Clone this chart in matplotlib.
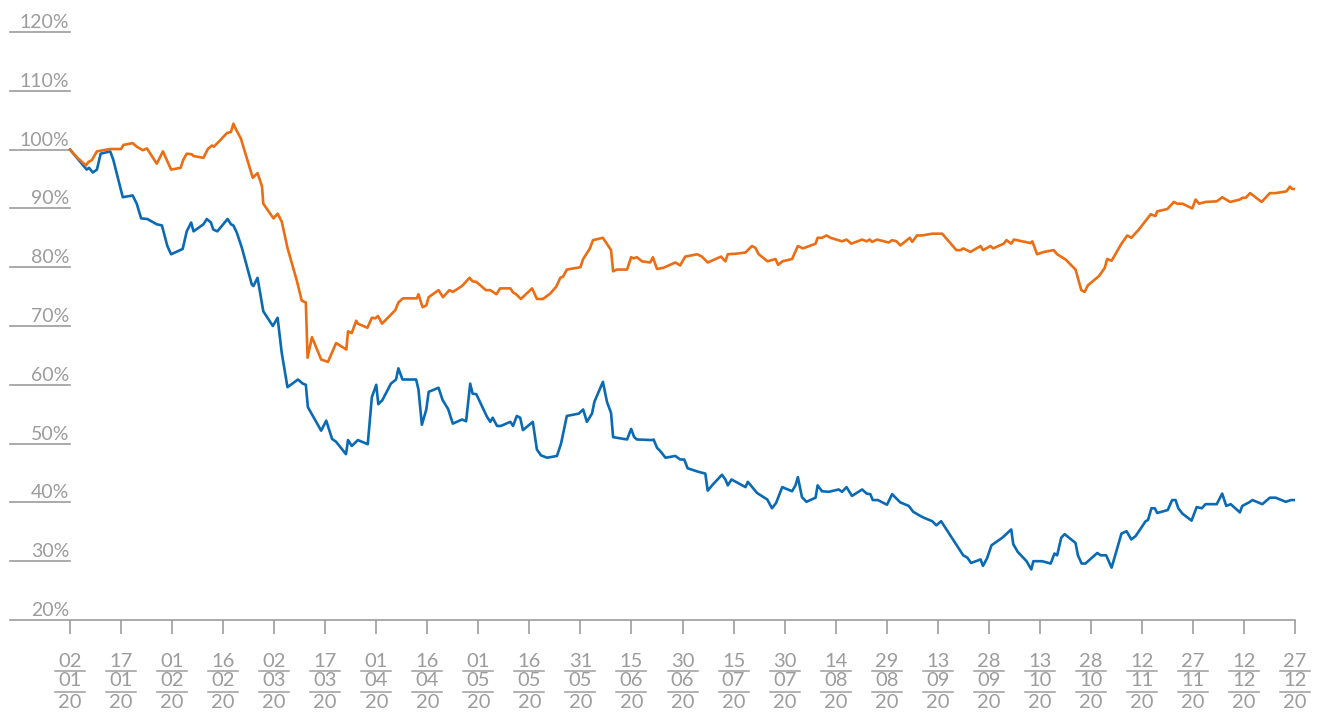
import matplotlib
matplotlib.use('Agg')
import matplotlib.pyplot as plt
import pandas as pd

# days since 02/01/2020 and index level (%)
orange_days = [0, 2.0, 4.7, 5.4, 6.4, 7.9, 11.8, 15.0, 15.7, 18.4, 19.6, 21.4, 22.6, 25.5, 27.3, 29.7,
               32.5, 33.3, 34.3, 35.8, 36.3, 39.2, 40.5, 41.7, 42.3, 46.1, 47.3, 48.0, 48.8, 50.2, 53.7,
               55.1, 56.4, 56.8, 59.8, 61.0, 62.2, 63.9, 66.7, 68.1, 69.3, 69.8, 71.1, 73.8, 75.8, 78.2,
               81.2, 81.7, 82.8, 84.1, 84.6, 87.4, 88.7, 89.7, 90.5, 91.7, 95.6, 96.5, 97.8, 101.9, 102.4,
               103.6, 104.7, 105.4, 108.3, 109.6, 111.5, 112.5, 115.2, 117.4, 118.3, 119.4, 122.2, 123.5,
               125.3, 126.4, 129.4, 130.2, 131.1, 132.5, 135.8, 137.2, 139.0, 141.1, 142.9, 144.1, 144.9,
               146.0, 150.0, 150.8, 152.7, 153.7, 156.6, 159.0, 159.6, 160.7, 163.7, 164.9, 165.6, 166.6,
               168.1, 170.5, 171.3, 172.5, 174.4, 177.9, 179.3, 180.8, 184.3, 185.7, 187.4, 191.3, 192.6,
               193.3, 195.8, 198.5, 200.4, 201.4, 202.4, 205.0, 207.3, 208.1, 209.4, 212.2, 213.9, 215.4,
               219.1, 219.7, 221.0, 222.3, 223.5, 226.9, 228.2, 229.6, 232.8, 234.1, 235.0, 235.7, 237.2,
               240.6, 241.6, 242.9, 244.0, 246.8, 247.5, 248.9, 250.4, 253.4, 256.3, 260.5, 261.7, 262.5,
               264.6, 267.6, 268.3, 270.5, 271.3, 274.4, 275.2, 276.6, 277.4, 282.3, 282.8, 284.2, 286.2,
               289.1, 290.1, 292.6, 295.5, 297.2, 298.2, 299.1, 302.4, 304.1, 304.8, 306.1, 309.0, 310.7,
               311.9, 314.1, 317.6, 319.0, 319.5, 322.5, 324.4, 325.4, 326.9, 329.8, 330.8, 331.8, 333.7,
               337.0, 338.6, 340.9, 343.8, 344.5, 345.5, 346.8, 350.2, 352.6, 354.3, 357.5, 358.5, 359.2, 360]
orange_vals = [100, 98.7, 97.3, 97.9, 98.2, 99.7, 100.1, 100.1, 100.8, 101.1, 100.5, 99.9, 100.2, 97.6, 99.7,
               96.6, 96.9, 98.3, 99.3, 99.2, 98.9, 98.6, 100.1, 100.7, 100.5, 102.8, 103.0, 104.4, 103.4,
               101.9, 95.2, 96.0, 93.8, 90.8, 88.3, 89.1, 87.8, 83.3, 77.6, 74.3, 74.0, 64.6, 68.1, 64.3,
               63.9, 67.1, 66.0, 69.1, 68.8, 70.9, 70.4, 69.7, 71.4, 71.3, 71.7, 70.4, 72.7, 74.0, 74.7,
               74.7, 75.4, 73.2, 73.5, 74.9, 76.1, 74.9, 76.1, 75.8, 76.8, 78.2, 77.6, 77.5, 76.1, 76.1,
               75.4, 76.4, 76.4, 75.7, 75.4, 74.6, 76.4, 74.6, 74.6, 75.5, 76.7, 78.2, 78.4, 79.6, 80.0,
               81.4, 83.1, 84.6, 85.0, 82.9, 79.3, 79.6, 79.6, 81.7, 81.5, 81.7, 81.0, 80.8, 81.7, 79.7,
               79.9, 80.8, 80.3, 81.8, 82.2, 81.8, 80.8, 81.8, 81.0, 82.2, 82.3, 82.5, 83.6, 83.3, 82.2,
               81.0, 81.4, 80.4, 81.0, 81.4, 83.6, 83.2, 84.0, 85.0, 85.0, 85.4, 85.0, 84.4, 84.7, 84.0,
               84.7, 84.4, 84.7, 84.3, 84.7, 84.2, 84.6, 84.4, 83.7, 85.0, 84.3, 85.4, 85.4, 85.7, 85.7,
               82.9, 82.9, 83.2, 82.6, 83.6, 82.9, 83.6, 83.2, 84.0, 84.6, 84.0, 84.7, 84.1, 84.4, 82.2,
               82.6, 82.9, 82.2, 81.3, 79.6, 76.1, 75.8, 76.9, 78.5, 79.9, 81.4, 81.1, 84.0, 85.4, 85.0,
               86.4, 89.0, 88.7, 89.5, 89.9, 91.1, 90.8, 90.8, 90.0, 91.5, 90.8, 91.1, 91.2, 91.9, 91.1,
               91.5, 91.8, 91.8, 92.6, 91.1, 92.6, 92.6, 92.9, 93.7, 93.3, 93.3]

blue_days = [0, 2.9, 4.9, 5.6, 6.7, 7.9, 9.0, 11.8, 12.7, 15.5, 18.4, 19.6, 20.9, 22.7, 25.5, 27.0, 28.6,
             29.7, 33.1, 34.3, 35.6, 36.3, 39.2, 40.2, 41.4, 42.1, 43.3, 46.3, 47.3, 48.0, 49.0, 50.5, 53.4,
             53.9, 55.1, 56.8, 59.6, 61.0, 62.2, 63.9, 67.0, 68.4, 69.3, 69.9, 73.8, 75.3, 77.0, 78.2, 81.1,
             81.7, 82.8, 84.6, 87.5, 88.7, 90.0, 90.6, 91.8, 94.3, 95.8, 96.5, 97.7, 101.7, 102.4, 103.4,
             104.7, 105.4, 108.3, 109.5, 111.1, 112.5, 115.2, 116.4, 117.6, 118.3, 119.4, 122.5, 123.5,
             124.2, 125.5, 126.6, 129.4, 130.2, 131.3, 132.3, 133.1, 136.0, 137.2, 138.4, 140.2, 143.1,
             144.3, 146.0, 149.5, 150.8, 151.9, 153.4, 154.1, 156.6, 157.8, 159.0, 159.6, 163.7, 164.9,
             165.8, 166.6, 171.0, 171.5, 172.5, 173.5, 175.0, 177.9, 179.3, 180.5, 181.5, 184.7, 186.7,
             187.4, 189.0, 191.6, 192.6, 193.3, 194.4, 198.5, 199.2, 201.9, 204.9, 206.3, 207.5, 209.3,
             212.2, 213.2, 213.9, 215.1, 216.4, 219.1, 219.7, 221.0, 223.0, 225.9, 226.9, 228.2, 229.8,
             232.8, 234.1, 235.2, 235.9, 237.4, 240.1, 241.6, 244.0, 246.5, 247.8, 249.9, 250.9, 253.4,
             254.6, 256.0, 262.5, 263.7, 264.8, 267.6, 268.3, 269.5, 270.8, 274.0, 276.6, 277.2, 278.5,
             281.1, 282.5, 283.1, 285.7, 288.2, 289.3, 290.1, 291.3, 292.3, 295.5, 296.2, 297.3, 298.4,
             301.9, 302.9, 304.5, 306.1, 309.0, 310.5, 311.9, 313.2, 316.1, 316.8, 317.8, 318.8, 319.5,
             322.6, 323.9, 324.9, 325.7, 326.9, 329.6, 331.1, 332.6, 333.7, 337.0, 338.6, 339.8, 341.1,
             343.8, 344.5, 346.5, 347.5, 350.4, 352.6, 354.3, 357.3, 358.8, 360]
blue_vals = [100, 98.0, 96.6, 96.9, 96.1, 96.6, 99.3, 99.7, 98.3, 91.9, 92.2, 90.8, 88.3, 88.2, 87.3, 87.1,
             83.6, 82.2, 83.1, 86.1, 87.6, 86.1, 87.3, 88.2, 87.6, 86.4, 86.1, 88.2, 87.3, 87.1, 85.9, 83.3,
             77.1, 76.8, 78.2, 72.5, 70.0, 71.4, 65.5, 59.6, 60.9, 60.2, 60.0, 56.2, 52.2, 53.9, 50.8, 50.3,
             48.2, 50.6, 49.6, 50.6, 49.9, 57.9, 60.0, 56.7, 57.4, 60.2, 60.9, 62.8, 60.9, 60.9, 59.2, 53.2,
             55.8, 58.8, 59.5, 57.4, 55.9, 53.4, 54.1, 53.8, 60.2, 58.5, 58.4, 54.6, 53.7, 54.4, 53.0, 53.0,
             53.7, 53.0, 54.7, 54.4, 52.3, 53.7, 49.0, 48.0, 47.6, 47.9, 50.0, 54.7, 55.1, 55.8, 53.7, 55.1,
             57.1, 60.5, 57.1, 55.2, 51.1, 50.7, 52.5, 51.1, 50.7, 50.6, 50.7, 49.3, 48.7, 47.6, 47.9, 47.3,
             47.3, 45.8, 45.2, 44.9, 42.0, 43.1, 44.7, 43.9, 42.9, 43.9, 42.6, 43.5, 41.6, 40.5, 39.0, 39.9,
             42.6, 41.9, 42.9, 44.3, 40.9, 40.1, 40.8, 42.9, 41.9, 41.8, 42.2, 41.8, 42.6, 41.1, 42.2, 41.5,
             41.4, 40.4, 40.4, 39.6, 41.4, 40.0, 39.4, 38.4, 37.7, 37.4, 36.8, 36.1, 36.8, 31.0, 30.6, 29.7,
             30.3, 29.2, 30.5, 32.7, 34.0, 35.4, 32.9, 31.6, 30.0, 28.6, 30.0, 30.0, 29.6, 31.3, 31.0, 34.0,
             34.6, 33.1, 31.0, 29.6, 29.6, 31.4, 31.0, 31.0, 28.9, 34.7, 35.1, 33.7, 34.3, 36.8, 37.0, 39.0,
             39.0, 38.2, 38.7, 40.4, 40.4, 39.0, 38.1, 36.9, 39.2, 39.0, 39.7, 39.7, 41.5, 39.4, 39.7, 38.3,
             39.4, 40.0, 40.4, 39.7, 40.8, 40.8, 40.1, 40.4, 40.4]

y_ticks = [20, 30, 40, 50, 60, 70, 80, 90, 100, 110, 120]
x_tick_labels = ['02/01/20', '17/01/20', '01/02/20', '16/02/20', '02/03/20', '17/03/20', '01/04/20',
                 '16/04/20', '01/05/20', '16/05/20', '31/05/20', '15/06/20', '30/06/20', '15/07/20',
                 '30/07/20', '14/08/20', '29/08/20', '13/09/20', '28/09/20', '13/10/20', '28/10/20',
                 '12/11/20', '27/11/20', '12/12/20', '27/12/20']

GREY = '#9c9c9c'
BLUE = '#0a6ab4'
ORANGE = '#ec6d12'
FONT = 'Lato'

fig = plt.figure(figsize=(13.22, 7.13), dpi=100)
ax = fig.add_axes([10 / 1322, 93 / 713, 1285 / 1322, 588 / 713])

ax.plot(blue_days, blue_vals, color=BLUE, lw=1.9, solid_joinstyle='round', zorder=3)
ax.plot(orange_days, orange_vals, color=ORANGE, lw=1.9, solid_joinstyle='round', zorder=4)

x_left = -60 / 3.401
ax.set_xlim(x_left, 360)
ax.set_ylim(20, 120)

for s in ['top', 'right', 'left']:
    ax.spines[s].set_visible(False)
ax.spines['bottom'].set_color(GREY)
ax.spines['bottom'].set_linewidth(1.2)

# short lines under each y label
frac = 60 / 1285
for v in y_ticks:
    if v > 20:
        ax.axhline(v, xmin=0, xmax=frac, color=GREY, lw=1.2, clip_on=False)
    ax.annotate(f'{v}%', xy=(frac, v), xycoords=('axes fraction', 'data'),
                xytext=(-1, 4), textcoords='offset pixels', ha='right', va='baseline',
                fontsize=14, color=GREY, family=FONT)

start = pd.Timestamp('2020-01-02')
tick_pos = [(pd.to_datetime(t, format='%d/%m/%y') - start).days for t in x_tick_labels]
ax.set_yticks([])
ax.set_xticks(tick_pos)
ax.set_xticklabels([])
ax.tick_params(axis='x', length=10, width=1.2, color=GREY, direction='out')

xt = ax.get_xaxis_transform()
half = 15 / 3.401
for p, lab in zip(tick_pos, x_tick_labels):
    d, m, y = lab.split('/')
    for txt, yy in zip([d, m, y], [-0.0714, -0.1029, -0.1403]):
        ax.text(p, yy, txt, transform=xt, ha='center', va='center', fontsize=14.5,
                color=GREY, family=FONT, clip_on=False)
    for yy in [-0.0867, -0.1224]:
        ax.plot([p - half, p + half], [yy, yy], transform=xt, color=GREY, lw=1.1, clip_on=False)

fig.savefig('out.png', dpi=100)
